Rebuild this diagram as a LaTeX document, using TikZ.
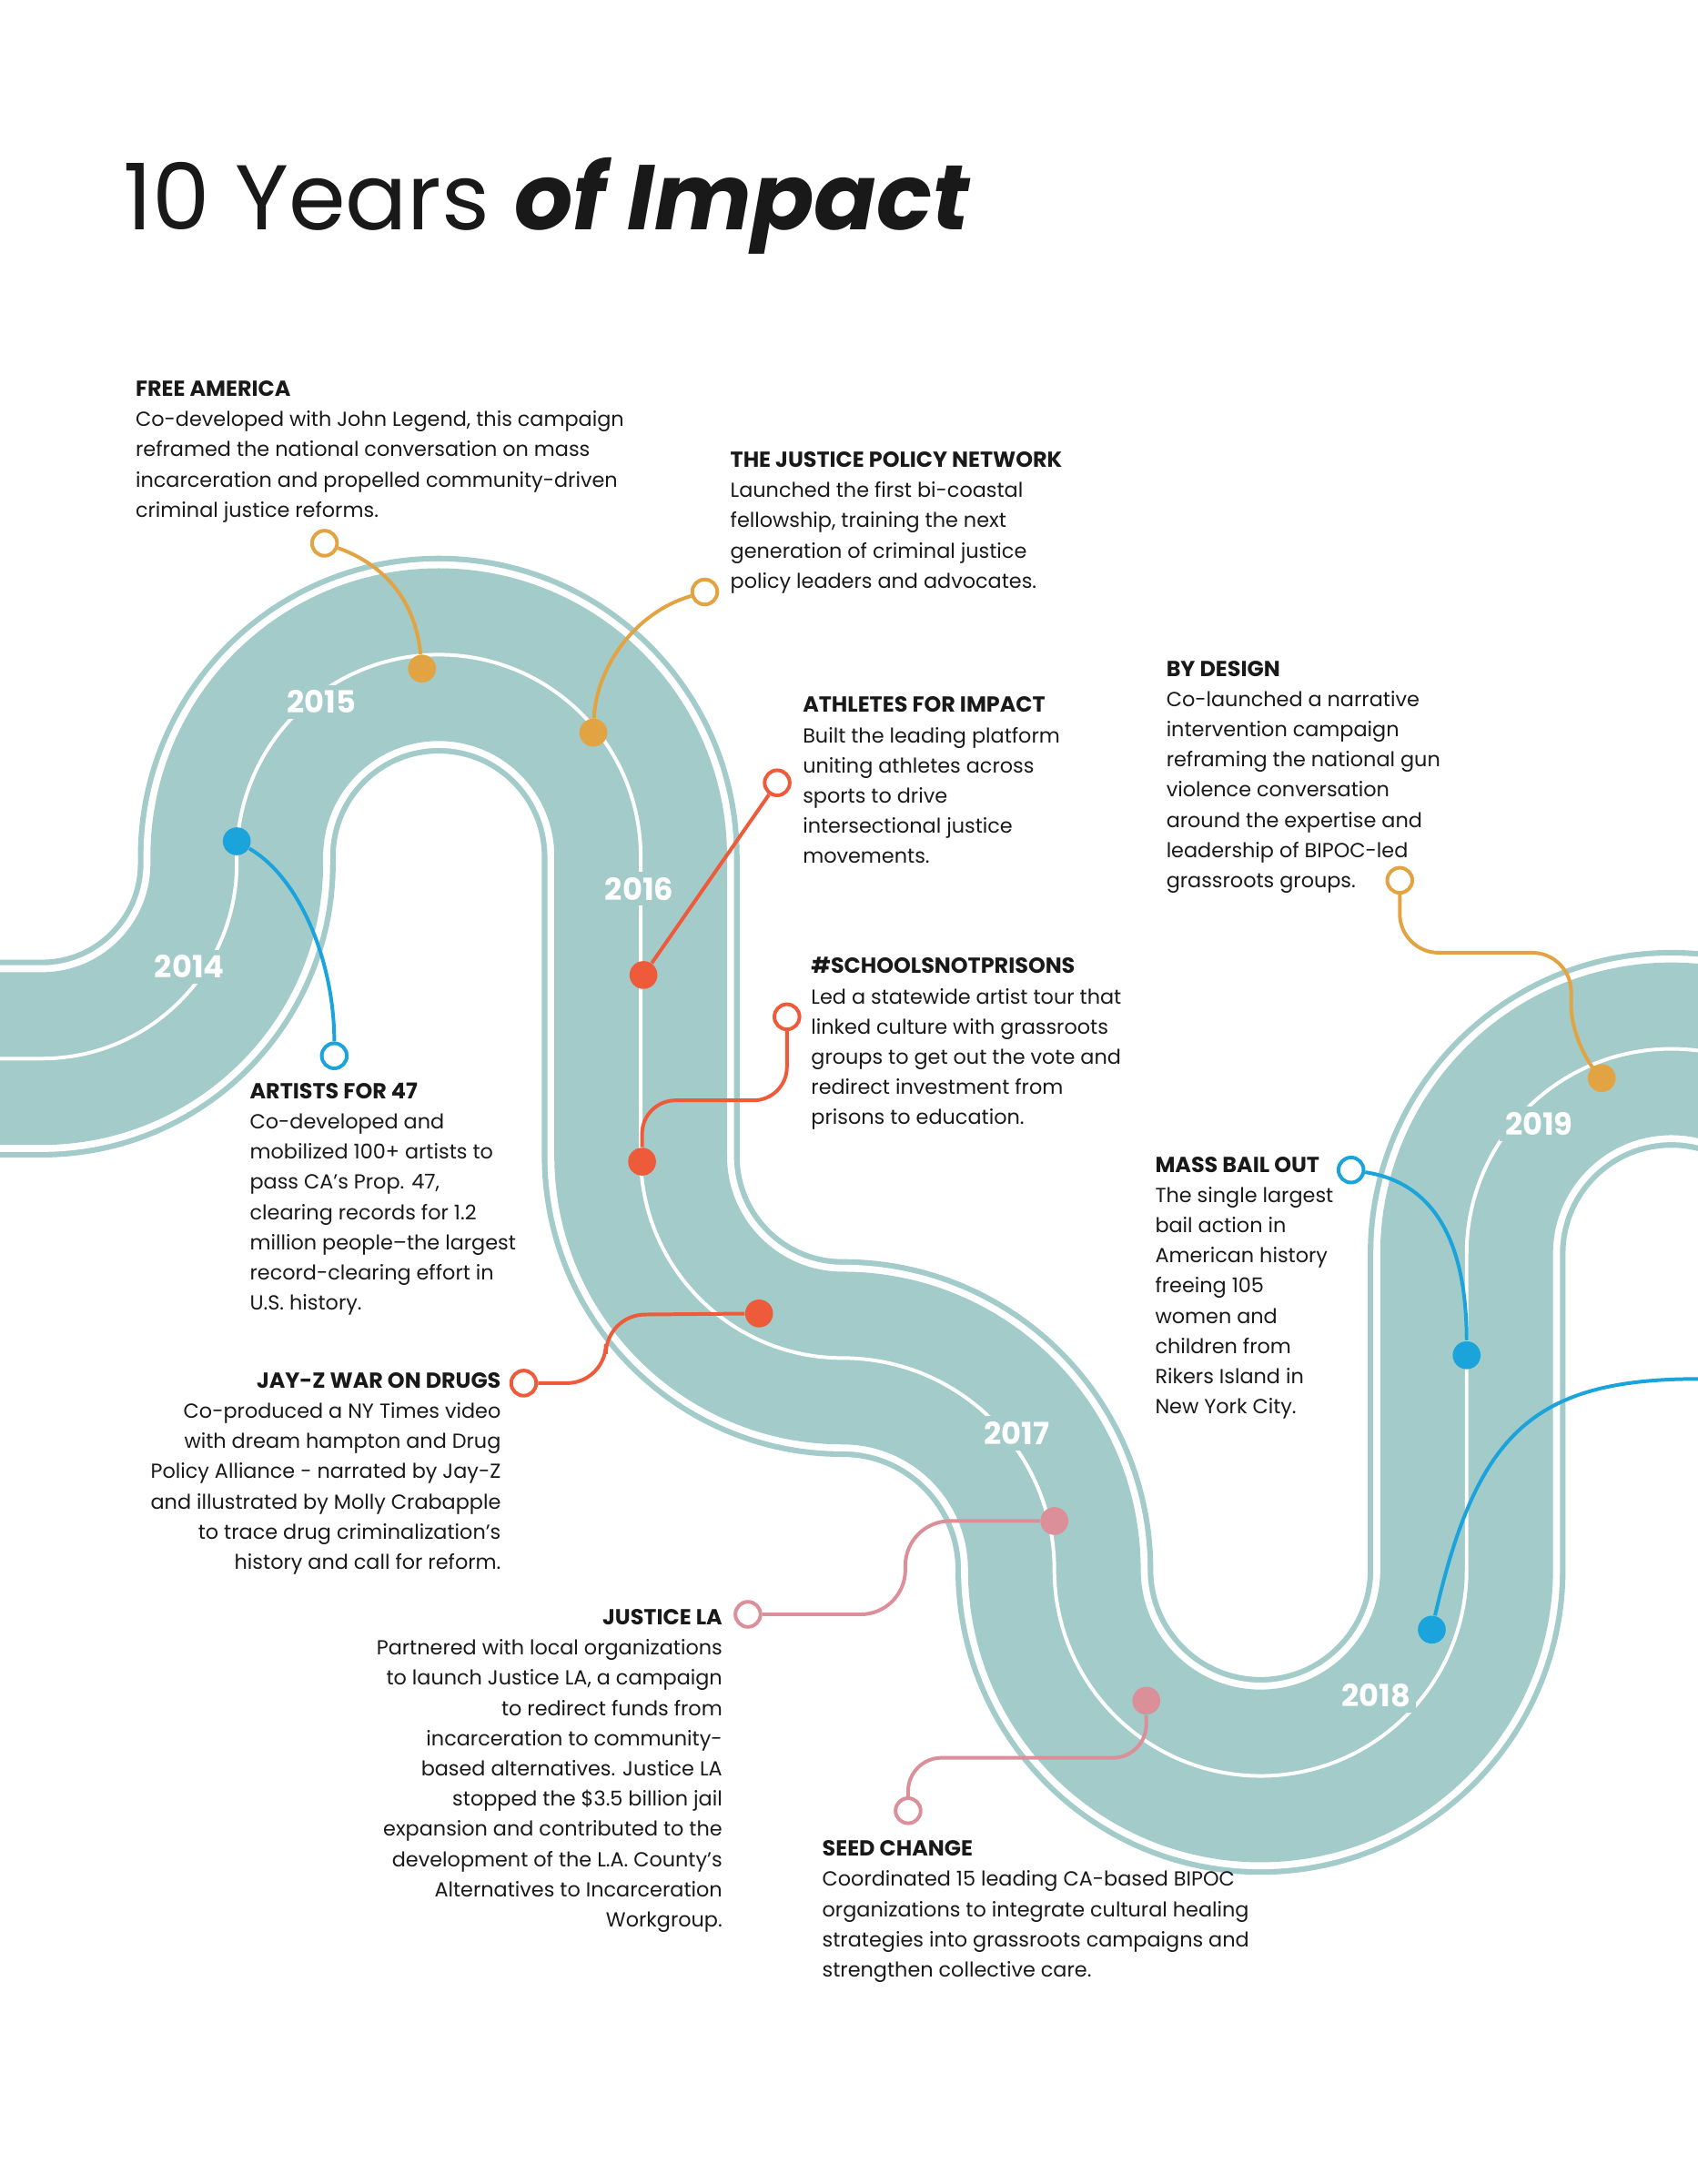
\documentclass[tikz,border=0pt]{standalone}
\usepackage{fontspec}
\setmainfont{Poppins}
\definecolor{road}{HTML}{A2CBC9}
\definecolor{cor}{HTML}{E2A443}
\definecolor{cred}{HTML}{EE5B3A}
\definecolor{cblue}{HTML}{1BA3DC}
\definecolor{cpink}{HTML}{DB8F99}
\newcommand{\hd}[1]{{\fontsize{7.8}{10.85}\selectfont\bfseries #1}}
\begin{document}
\begin{tikzpicture}[x=0.5pt,y=-0.5pt,
  body/.style={inner sep=0,font=\fontsize{7.3}{10.85}\selectfont,text=black!90},
  bl/.style={body,anchor=north west,align=left},
  br/.style={body,anchor=north east,align=right},
  year/.style={fill=road,text=white,font=\bfseries\fontsize{11}{11}\selectfont,inner sep=2pt},
  ring/.style={draw=#1,line width=1.3pt,fill=white,circle,minimum size=9pt,inner sep=0},
  dot/.style={fill=#1,circle,minimum size=10pt,inner sep=0},
  con/.style={draw=#1,line width=1.3pt}]
\useasboundingbox (0,0) rectangle (1219,1568);
\begin{scope}
\clip (0,0) rectangle (1219,1568);
\def\road{(-40,760) -- (30,760) arc[start angle=90,end angle=0,radius=140]
  -- (170,615) arc[start angle=180,end angle=360,radius=145]
  -- (460,830) arc[start angle=180,end angle=90,radius=145]
  arc[start angle=270,end angle=360,radius=152]
  arc[start angle=180,end angle=0,radius=148]
  -- (1053,900) arc[start angle=180,end angle=360,radius=147] -- (1347,1200)}
\draw[road,line width=71pt] \road;
\draw[white,line width=67pt] \road;
\draw[road,line width=62pt] \road;
\draw[white,line width=1.3pt] \road;
\end{scope}
\node[anchor=base west,inner sep=0,font=\fontsize{33}{33}\selectfont,text=black!90] (title) at (88,165) {10 Years \textbf{\textit{of Impact}}};
% year labels
\node[year] (y14) at (136,694) {2014};
\node[year] (y15) at (231,504) {2015};
\node[year] (y16) at (459,638) {2016};
\node[year] (y17) at (730,1029) {2017};
\node[year] (y18) at (988,1217) {2018};
\node[year] (y19) at (1105,807) {2019};
% texts
\node[bl] (t1) at (97,273) {\hd{FREE AMERICA}\\Co-developed with John Legend, this campaign\\reframed the national conversation on mass\\incarceration and propelled community-driven\\criminal justice reforms.};
\node[bl] (t2) at (524,324) {\hd{THE JUSTICE POLICY NETWORK}\\Launched the first bi-coastal\\fellowship, training the next\\generation of criminal justice\\policy leaders and advocates.};
\node[bl] (t3) at (576,500) {\hd{ATHLETES FOR IMPACT}\\Built the leading platform\\uniting athletes across\\sports to drive\\intersectional justice\\movements.};
\node[bl] (t4) at (837,474) {\hd{BY DESIGN}\\Co-launched a narrative\\intervention campaign\\reframing the national gun\\violence conversation\\around the expertise and\\leadership of BIPOC-led\\grassroots groups.};
\node[bl] (t5) at (582,687) {\hd{\#SCHOOLSNOTPRISONS}\\Led a statewide artist tour that\\linked culture with grassroots\\groups to get out the vote and\\redirect investment from\\prisons to education.};
\node[bl] (t6) at (179,777) {\hd{ARTISTS FOR 47}\\Co-developed and\\mobilized 100+ artists to\\pass CA’s Prop. 47,\\clearing records for 1.2\\million people–the largest\\record-clearing effort in\\U.S. history.};
\node[bl] (t7) at (829,830) {\hd{MASS BAIL OUT}\\The single largest\\bail action in\\American history\\freeing 105\\women and\\children from\\Rikers Island in\\New York City.};
\node[br] (t8) at (360,985) {\hd{JAY-Z WAR ON DRUGS}\\Co-produced a NY Times video\\with dream hampton and Drug\\Policy Alliance - narrated by Jay-Z\\and illustrated by Molly Crabapple\\to trace drug criminalization’s\\history and call for reform.};
\node[br] (t9) at (519,1155) {\hd{JUSTICE LA}\\Partnered with local organizations\\to launch Justice LA, a campaign\\to redirect funds from\\incarceration to community-\\based alternatives. Justice LA\\stopped the \$3.5 billion jail\\expansion and contributed to the\\development of the L.A. County’s\\Alternatives to Incarceration\\Workgroup.};
\node[bl] (t10) at (590,1321) {\hd{SEED CHANGE}\\Coordinated 15 leading CA-based BIPOC\\organizations to integrate cultural healing\\strategies into grassroots campaigns and\\strengthen collective care.};
% markers
\node[ring=cor] (r1) at (233,390) {}; \node[dot=cor] (d1) at (303,480) {};
\draw[con=cor] (r1) .. controls (275,405) and (298,430) .. (d1);
\node[ring=cor] (r2) at (506,425) {}; \node[dot=cor] (d2) at (426,526) {};
\draw[con=cor] (r2) .. controls (455,440) and (428,480) .. (d2);
\node[ring=cred] (r3) at (558,562) {}; \node[dot=cred] (d3) at (462,700) {};
\draw[con=cred] (r3) -- (d3);
\node[ring=cred] (r4) at (565,730) {}; \node[dot=cred] (d4) at (461,834) {};
\draw[con=cred,rounded corners=12] (r4) -- (565,790) -- (461,790) -- (d4);
\node[dot=cblue] (d5) at (170,604) {}; \node[ring=cblue] (r5) at (240,758) {};
\draw[con=cblue] (d5) .. controls (215,630) and (240,690) .. (r5);
\node[ring=cred] (r6) at (376,993) {}; \node[dot=cred] (d6) at (545,943) {};
\draw[con=cred,rounded corners=14] (r6) -- (435,993) -- (435,944) -- (d6);
\node[ring=cpink] (r7) at (537,1159) {}; \node[dot=cpink] (d7) at (757,1092) {};
\draw[con=cpink,rounded corners=16] (r7) -- (650,1159) -- (650,1092) -- (d7);
\node[ring=cpink] (r8) at (652,1300) {}; \node[dot=cpink] (d8) at (823,1221) {};
\draw[con=cpink,rounded corners=12] (r8) -- (652,1262) -- (823,1262) -- (d8);
\node[ring=cor] (r9) at (1005,632) {}; \node[dot=cor] (d9) at (1150,774) {};
\draw[con=cor,rounded corners=14] (r9) -- (1005,684) -- (1128,684) -- (1128,750) -- (d9);
\node[ring=cblue] (r10) at (970,840) {}; \node[dot=cblue] (d10) at (1053,973) {};
\draw[con=cblue] (r10) .. controls (1035,850) and (1053,900) .. (d10);
\coordinate (e11) at (1219,990);
\node[dot=cblue] (d11) at (1028,1170) {};
\draw[con=cblue] (d11) .. controls (1060,1030) and (1100,990) .. (e11);
\end{tikzpicture}
\end{document}
